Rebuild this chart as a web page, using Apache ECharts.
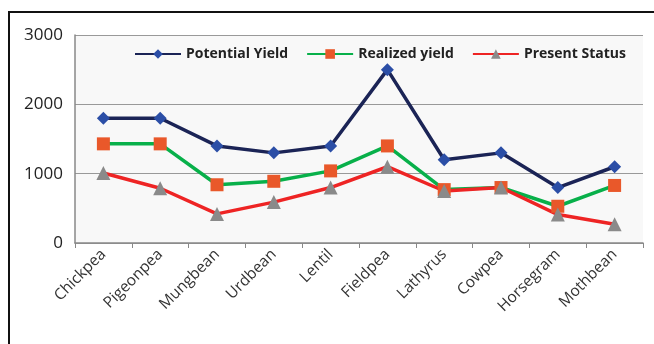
<!DOCTYPE html>
<html>
<head>
<meta charset="utf-8">
<script src="https://cdn.jsdelivr.net/npm/echarts@6/dist/echarts.min.js"></script>
<style>
  html, body { margin: 0; padding: 0; background: #fff; }
  #frame { position: absolute; left: 8px; top: 11px; width: 660px; height: 340px;
           border-top: 2px solid #111; border-left: 2px solid #111; }
  #chart { position: absolute; left: 0; top: 0; width: 654px; height: 344px; }
</style>
</head>
<body>
<div id="frame"></div>
<div id="chart"></div>
<script>
const crops = ['Chickpea', 'Pigeonpea', 'Mungbean', 'Urdbean', 'Lentil', 'Fieldpea', 'Lathyrus', 'Cowpea', 'Horsegram', 'Mothbean']
const potentialYield = [1800, 1800, 1400, 1300, 1400, 2500, 1200, 1300, 800, 1100]
const realizedYield = [1430, 1430, 840, 890, 1040, 1400, 770, 800, 530, 830]
const presentStatus = [1010, 790, 420, 590, 800, 1100, 750, 800, 410, 270]

const font = '"Open Sans", "Liberation Sans", sans-serif'

const chart = echarts.init(document.getElementById('chart'))

function lineSeries(name, data, lineColor, markColor, symbol, size) {
  return {
    name,
    type: 'line',
    data,
    symbol,
    symbolSize: size,
    lineStyle: { color: lineColor, width: 3.5 },
    itemStyle: { color: markColor },
    z: 3,
  }
}

chart.setOption({
  animation: false,
  grid: { left: 75, right: 11, top: 35, bottom: 101, show: true, backgroundColor: '#f8f8f8', borderWidth: 0 },
  legend: {
    top: 42,
    left: 129,
    itemGap: 18,
    itemWidth: 46,
    itemHeight: 12,
    textStyle: { fontFamily: font, fontSize: 14, fontWeight: 'bold', color: '#222' },
    data: ['Potential Yield', 'Realized yield', 'Present Status'],
  },
  xAxis: {
    type: 'category',
    data: crops,
    boundaryGap: true,
    axisLine: { lineStyle: { color: '#888', width: 1.5 } },
    axisTick: { show: true, length: 5, lineStyle: { color: '#888' } },
    axisLabel: { rotate: 45, margin: 9, fontFamily: font, fontSize: 15.5, color: '#333' },
  },
  yAxis: {
    type: 'value',
    min: 0,
    max: 3000,
    interval: 1000,
    axisLine: { show: true, lineStyle: { color: '#888', width: 1.5 } },
    axisTick: { show: false },
    axisLabel: { fontFamily: font, fontSize: 17, color: '#222', margin: 12, formatter: (v) => String(v) },
    splitLine: { lineStyle: { color: '#999', width: 1 } },
  },
  series: [
    lineSeries('Potential Yield', potentialYield, '#1b2456', '#2b4ea6', 'diamond', 13),
    lineSeries('Realized yield', realizedYield, '#08b04a', '#e9582a', 'rect', 13),
    lineSeries('Present Status', presentStatus, '#ee2424', '#8a8a8a', 'triangle', 14),
  ],
})
</script>
</body>
</html>
